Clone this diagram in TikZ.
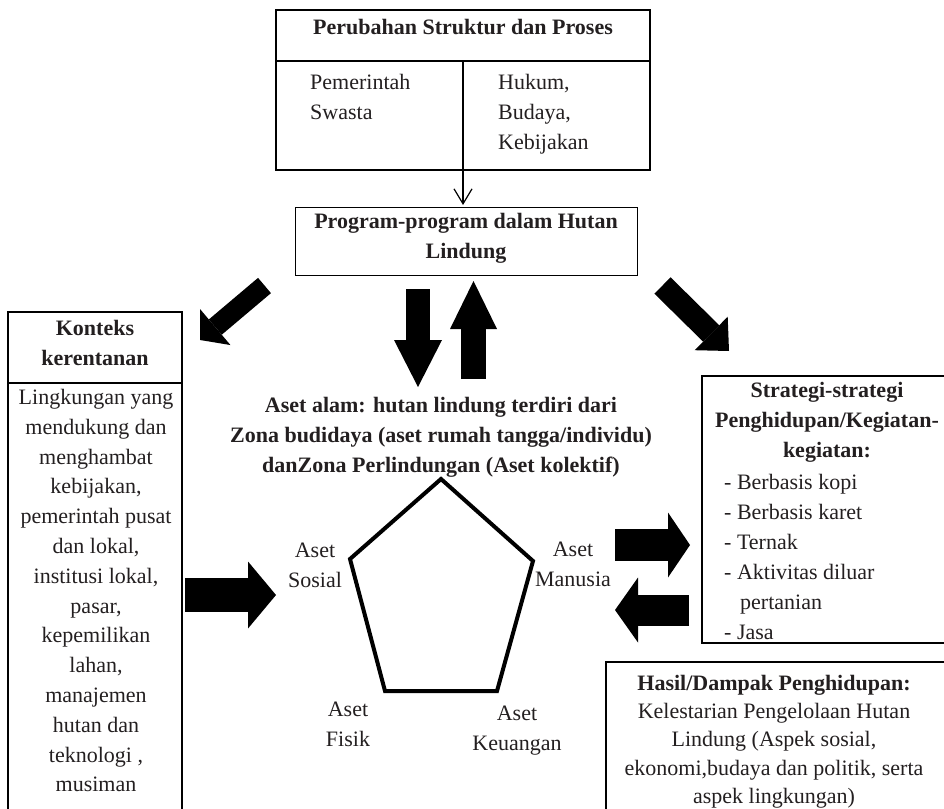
\documentclass[tikz,border=0pt]{standalone}
\usepackage{fontspec}
\setmainfont{Liberation Serif}
\usetikzlibrary{arrows.meta}
\definecolor{ink}{RGB}{35,31,32}
\begin{document}
\begin{tikzpicture}[x=1pt,y=-1pt,
  txt/.style={font=\fontsize{22}{30}\selectfont, text=ink, inner sep=0pt, align=center},
  bold/.style={font=\fontsize{22}{30}\selectfont\bfseries, text=ink, inner sep=0pt, align=center},
  frame/.style={draw=black, line width=1.4pt},
  thinarrow/.style={draw=black, line width=1.2pt, -{Straight Barb[length=15pt,width=18pt,line width=1.2pt]}},
  blockarrow/.style n args={3}{draw=black, line width=#1, -{Triangle[length=#2,width=#3,line width=0pt]}},
  penta/.style={draw=black, line width=4pt, line join=miter}
]
\useasboundingbox (0,0) rectangle (944,808);

% ---- top box: Perubahan Struktur dan Proses
\draw[frame] (276,10) rectangle (650,170);
\draw[frame] (276,61) -- (650,61);
\coordinate (vtop) at (463,61);
\node[bold, anchor=north] (hdrTop) at (463,19) {Perubahan Struktur dan Proses};
\node[txt, anchor=north west, align=left] (gov) at (310,74) {Pemerintah\\Swasta};
\node[txt, anchor=north west, align=left] (law) at (498,74) {Hukum,\\Budaya,\\Kebijakan};

% ---- program box
\node[frame, minimum width=342, minimum height=68, anchor=north west, inner sep=0pt] (prog) at (295,207) {};
\node[bold, anchor=north] (progT) at (466,213) {Program-program dalam Hutan\\Lindung};
\draw[thinarrow] (vtop) -- ([yshift=2pt]prog.north -| vtop);

% ---- Konteks kerentanan box
\draw[frame] (8,812) -- (8,312) -- (182,312) -- (182,812);
\draw[frame] (8,383) -- (182,383);
\node[bold, anchor=north] (ktxH) at (95,320) {Konteks\\kerentanan};
\node[txt, anchor=north, font=\fontsize{22}{29.8}\selectfont] (ktxB) at (96,389) {Lingkungan yang\\mendukung dan\\menghambat\\kebijakan,\\pemerintah pusat\\dan lokal,\\institusi lokal,\\pasar,\\kepemilikan\\lahan,\\manajemen\\hutan dan\\teknologi ,\\musiman};

% ---- Strategi box
\draw[frame] (948,376) -- (702,376) -- (702,643) -- (948,643);
\node[bold, anchor=north] (strH) at (827,382) {Strategi-strategi\\Penghidupan/Kegiatan-\\kegiatan:};
\node[txt, anchor=north west, align=left] (strL) at (724,474) {- Berbasis kopi\\- Berbasis karet\\- Ternak\\- Aktivitas diluar\\\hspace*{16pt}pertanian\\- Jasa};

% ---- Hasil box
\draw[frame] (948,662) -- (606,662) -- (606,812);
\node[txt, anchor=north, font=\fontsize{22}{28.2}\selectfont] (hasil) at (774,675) {\textbf{Hasil/Dampak Penghidupan:}\\Kelestarian Pengelolaan Hutan\\Lindung (Aspek sosial,\\ekonomi,budaya dan politik, serta\\aspek lingkungan)};

% ---- Aset alam title
\node[bold, anchor=north] (alam) at (441,397) {Aset alam: hutan lindung terdiri dari\\Zona budidaya (aset rumah tangga/individu)\\danZona Perlindungan (Aset kolektif)};

% ---- pentagon
\coordinate (pT) at (441,479);
\coordinate (pUL) at (350,559);
\coordinate (pUR) at (533,561);
\coordinate (pLL) at (385,691);
\coordinate (pLR) at (497,691);
\draw[penta] (pT) -- (pUR) -- (pLR) -- (pLL) -- (pUL) -- cycle;
\node[txt, anchor=north] (sosial) at (315,543) {Aset\\Sosial};
\node[txt, anchor=north] (manusia) at (573,542) {Aset\\Manusia};
\node[txt, anchor=north] (fisik) at (348,702) {Aset\\Fisik};
\node[txt, anchor=north] (uang) at (517,706) {Aset\\Keuangan};

% ---- block arrows
\coordinate (a1s) at (418,289);   \coordinate (a1e) at (418,387);
\coordinate (a2s) at (473.5,379); \coordinate (a2e) at (473.5,281);
\coordinate (a3s) at (185,595);   \coordinate (a3e) at (276,595);
\coordinate (a4s) at (615,545);   \coordinate (a4e) at (690,545);
\coordinate (a5s) at (689,610);   \coordinate (a5e) at (615,610);
\coordinate (a6s) at (264.5,285.5); \coordinate (a6e) at (200,340);
\coordinate (a7s) at (662.5,285.5); \coordinate (a7e) at (729,351);
\draw[blockarrow={24pt}{47pt}{48pt}] (a1s) -- (a1e);
\draw[blockarrow={25pt}{48pt}{47pt}] (a2s) -- (a2e);
\draw[blockarrow={34pt}{28pt}{67pt}] (a3s) -- (a3e);
\draw[blockarrow={32pt}{22pt}{65pt}] (a4s) -- (a4e);
\draw[blockarrow={31pt}{23pt}{65pt}] (a5s) -- (a5e);
\draw[blockarrow={20pt}{20pt}{47pt}] (a6s) -- (a6e);
\draw[blockarrow={23pt}{25pt}{47pt}] (a7s) -- (a7e);
\end{tikzpicture}
\end{document}
